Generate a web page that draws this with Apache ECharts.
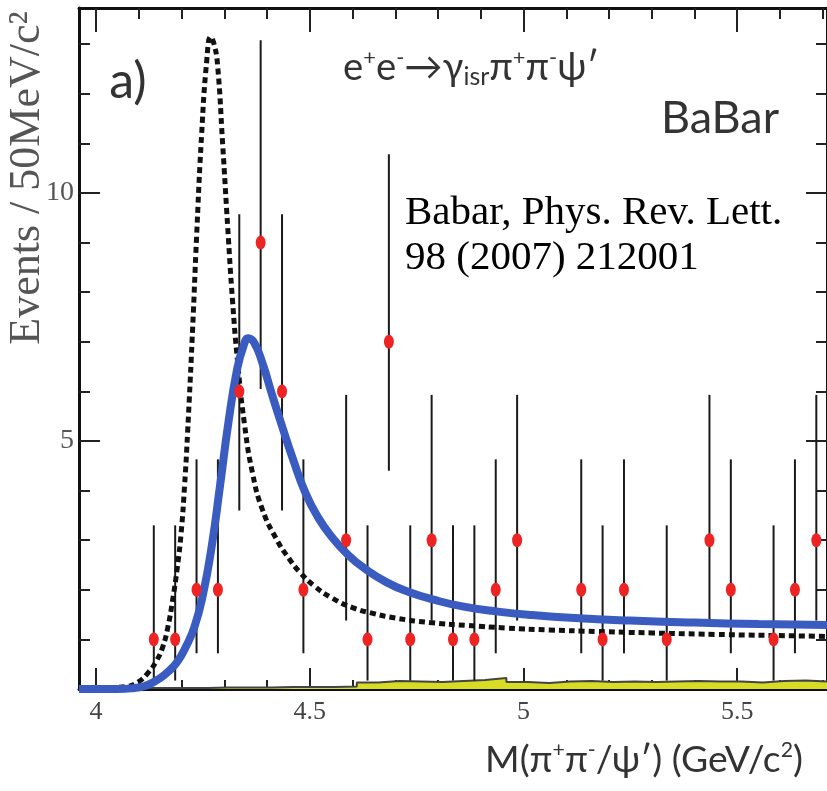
<!DOCTYPE html>
<html>
<head>
<meta charset="utf-8">
<script src="https://cdn.jsdelivr.net/npm/echarts@6/dist/echarts.min.js"></script>
<style>
  html, body { margin: 0; padding: 0; background: #fff; }
  #chart { width: 827px; height: 791px; }
</style>
</head>
<body>
<div id="chart"></div>
<script>
// axis ranges and ticks
const XMIN = 3.96, XMAX = 5.71, YMAX = 13.73;
const xMajor = [4, 4.5, 5, 5.5];
const xMinor = [4.0, 4.1, 4.2, 4.3, 4.4, 4.5, 4.6, 4.7, 4.8, 4.9, 5.0, 5.1, 5.2, 5.3, 5.4, 5.5, 5.6, 5.7];
const yMajor = [5, 10];
const yMinor = [1, 2, 3, 4, 5, 6, 7, 8, 9, 10, 11, 12, 13];

// data points (50 MeV bins)
const binCenters = [4.135, 4.185, 4.235, 4.285, 4.335, 4.385, 4.435, 4.485, 4.585, 4.635, 4.685, 4.735, 4.785,
  4.835, 4.885, 4.935, 4.985, 5.135, 5.185, 5.235, 5.335, 5.435, 5.485, 5.585, 5.635, 5.685];
const counts = [1, 1, 2, 2, 6, 9, 6, 2, 3, 1, 7, 1, 3, 1, 1, 2, 3, 2, 1, 2, 1, 3, 2, 1, 2, 3];
const errLow = [0.17, 0.17, 0.72, 0.72, 3.6, 6.05, 3.6, 0.72, 1.38, 0.17, 4.4, 0.17, 1.38, 0.17, 0.17, 0.72, 1.38,
  0.72, 0.17, 0.72, 0.17, 1.38, 0.72, 0.17, 0.72, 1.38];
const errHigh = [3.3, 3.3, 4.63, 4.63, 9.57, 13.08, 9.57, 4.63, 5.93, 3.3, 10.78, 3.3, 5.93, 3.3, 3.3, 4.63, 5.93,
  4.63, 3.3, 4.63, 3.3, 5.93, 4.63, 3.3, 4.63, 5.93];

// blue fit
const fitX = [3.96, 4.05, 4.09, 4.11, 4.13, 4.15, 4.17, 4.19, 4.21, 4.23, 4.25, 4.27, 4.29, 4.31, 4.33, 4.345,
  4.356, 4.37, 4.39, 4.41, 4.435, 4.46, 4.49, 4.52, 4.55, 4.59, 4.63, 4.68, 4.73, 4.79, 4.86, 4.94, 5.02, 5.12,
  5.25, 5.4, 5.55, 5.71];
const fitY = [0, 0, 0.02, 0.05, 0.12, 0.22, 0.36, 0.55, 0.85, 1.25, 1.9, 2.85, 4.1, 5.4, 6.45, 6.92,
  7.07, 6.98, 6.55, 5.98, 5.3, 4.65, 3.95, 3.45, 3.08, 2.7, 2.42, 2.15, 1.96, 1.8, 1.66, 1.56, 1.49, 1.43,
  1.38, 1.34, 1.31, 1.29];

// dotted curve
const dotX = [3.96, 4.04, 4.072, 4.098, 4.121, 4.142, 4.156, 4.168, 4.179, 4.19, 4.199, 4.207, 4.214, 4.226, 4.235,
  4.247, 4.259, 4.268, 4.276, 4.284, 4.296, 4.308, 4.319, 4.331, 4.347, 4.366, 4.389, 4.422, 4.452, 4.476, 4.51,
  4.551, 4.6, 4.65, 4.7, 4.78, 4.87, 4.96, 5.06, 5.17, 5.3, 5.45, 5.58, 5.71];
const dotY = [0.02, 0.03, 0.05, 0.14, 0.32, 0.58, 0.85, 1.25, 1.79, 2.45, 3.15, 4.1, 5.16, 7.3, 9.1,
  11.2, 12.68, 13.15, 13.0, 12.6, 11.0, 9.3, 7.85, 6.6, 5.35, 4.35, 3.62, 3.02, 2.62, 2.36, 2.08,
  1.84, 1.64, 1.52, 1.43, 1.34, 1.28, 1.23, 1.19, 1.16, 1.13, 1.1, 1.08, 1.06];

// background histogram (bin edges, values)
const bkgEdges = [3.96, 4.01, 4.06, 4.11, 4.16, 4.21, 4.26, 4.31, 4.36, 4.41, 4.46, 4.51, 4.56, 4.61, 4.66, 4.71,
  4.76, 4.81, 4.86, 4.91, 4.96, 5.01, 5.06, 5.11, 5.16, 5.21, 5.26, 5.31, 5.36, 5.41, 5.46, 5.51, 5.56, 5.61, 5.66, 5.71];
const bkgVals = [0.02, 0.02, 0.02, 0.02, 0.02, 0.02, 0.03, 0.03, 0.03, 0.04, 0.04, 0.04, 0.05, 0.13, 0.16, 0.15,
  0.14, 0.16, 0.18, 0.22, 0.14, 0.12, 0.15, 0.16, 0.14, 0.15, 0.14, 0.15, 0.16, 0.15, 0.15, 0.13, 0.16, 0.17, 0.15, 0.15];

const sans = 'Lato, "Open Sans", sans-serif';
const serif = '"Liberation Serif", "DejaVu Serif", serif';

// size a text so that it spans the wanted width
const measureCtx = document.createElement('canvas').getContext('2d');
function fitSize(frags, family, target) {
  let w = 0;
  frags.forEach(function (f) {
    measureCtx.font = (100 * f[1]) + 'px ' + family;
    w += measureCtx.measureText(f[0]).width;
  });
  return 100 * target / w;
}
const SUP = 0.57, SUB = 0.65;
const reactSize = fitSize([['e', 1], ['+', SUP], ['e', 1], ['-', SUP], ['→γ', 1], ['isr', SUB], ['π', 1],
  ['+', SUP], ['π', 1], ['-', SUP], ['ψ′', 1]], sans, 256);
const xTitleSize = fitSize([['M(π', 1], ['+', SUP], ['π', 1], ['-', SUP], ['/ψ′) (GeV/c', 1], ['2', SUP], [')', 1]],
  sans, 318);

const chart = echarts.init(document.getElementById('chart'));

function xAxisDef(pos, vals, len, showLine, showLabel) {
  return {
    type: 'value', min: XMIN, max: XMAX, position: pos,
    axisLine: {show: showLine, onZero: false, lineStyle: {color: '#111', width: 3}},
    axisTick: {show: true, inside: true, length: len, customValues: vals, lineStyle: {color: '#222', width: 2}},
    axisLabel: {
      show: showLabel, customValues: xMajor, margin: 10,
      fontFamily: serif, fontSize: 26, color: '#444'
    },
    splitLine: {show: false}
  };
}

function yAxisDef(pos, vals, len, showLine, showLabel) {
  return {
    type: 'value', min: 0, max: YMAX, position: pos,
    axisLine: {show: showLine, onZero: false, lineStyle: {color: '#111', width: 3}},
    axisTick: {show: true, inside: true, length: len, customValues: vals, lineStyle: {color: '#222', width: 2}},
    axisLabel: {
      show: showLabel, customValues: yMajor, margin: 5,
      fontFamily: serif, fontSize: 28, color: '#555'
    },
    splitLine: {show: false}
  };
}

const errData = binCenters.map((x, i) => [x, errLow[i], errHigh[i]]);

const option = {
  animation: false,
  backgroundColor: '#fff',
  grid: {left: 79, top: 8, width: 750, height: 681},
  xAxis: [
    xAxisDef('bottom', xMajor, 21, true, true),
    xAxisDef('bottom', xMinor, 9, false, false),
    xAxisDef('top', xMajor, 24, true, false),
    xAxisDef('top', xMinor, 11, false, false)
  ],
  yAxis: [
    yAxisDef('left', yMajor, 21, true, true),
    yAxisDef('left', yMinor, 11, false, false),
    yAxisDef('right', yMajor, 21, true, false),
    yAxisDef('right', yMinor, 11, false, false)
  ],
  series: [
    {
      type: 'line', step: 'end', symbol: 'none',
      data: bkgEdges.map((x, i) => [x, bkgVals[i]]),
      lineStyle: {color: '#444', width: 2},
      areaStyle: {color: '#d8dc24', opacity: 1},
      z: 1
    },
    {
      type: 'custom',
      data: errData,
      renderItem: function (params, api) {
        const p1 = api.coord([api.value(0), api.value(1)]);
        const p2 = api.coord([api.value(0), api.value(2)]);
        return {
          type: 'line',
          shape: {x1: p1[0], y1: p1[1], x2: p2[0], y2: p2[1]},
          style: {stroke: '#1a1a1a', lineWidth: 2}
        };
      },
      z: 2
    },
    {
      type: 'line', symbol: 'none', smooth: 0.5,
      data: dotX.map((x, i) => [x, dotY[i]]),
      lineStyle: {color: '#111', width: 5, type: [6, 4], cap: 'butt'},
      z: 3
    },
    {
      type: 'line', symbol: 'none', smooth: 0.5,
      data: fitX.map((x, i) => [x, fitY[i]]),
      lineStyle: {color: '#3a5cc0', width: 8},
      z: 4
    },
    {
      type: 'scatter', symbol: 'circle', symbolSize: [10, 14],
      data: binCenters.map((x, i) => [x, counts[i]]),
      itemStyle: {color: '#ee2424', opacity: 1},
      z: 5
    }
  ],
  graphic: [
    {
      type: 'text', x: 27, y: 178, rotation: Math.PI / 2,
      style: {
        text: 'Events / 50MeV/c²', fontFamily: serif, fontSize: 44, fill: '#555',
        align: 'center', verticalAlign: 'middle'
      }
    },
    {
      type: 'text', x: 128, y: 82,
      style: {text: 'a)', fontFamily: sans, fontSize: 50, fill: '#333', align: 'center', verticalAlign: 'middle'}
    },
    {
      type: 'text', x: 471, y: 68,
      style: {
        text: '{n|e}{sup|+}{n|e}{sup|-}{n|→γ}{sub|isr}{n|π}{sup|+}{n|π}{sup|-}{n|ψ′}',
        align: 'center', verticalAlign: 'middle',
        rich: {
          n: {fontFamily: sans, fontSize: reactSize, fill: '#333', lineHeight: reactSize * 1.1},
          sup: {fontFamily: sans, fontSize: reactSize * SUP, fill: '#333', verticalAlign: 'top', lineHeight: reactSize * SUP},
          sub: {fontFamily: sans, fontSize: reactSize * SUB, fill: '#333', verticalAlign: 'bottom', lineHeight: reactSize * SUB}
        }
      }
    },
    {
      type: 'text', x: 720, y: 118,
      style: {text: 'BaBar', fontFamily: sans, fontSize: 45, fill: '#333', align: 'center', verticalAlign: 'middle'}
    },
    {
      type: 'text', x: 405, y: 213,
      style: {text: 'Babar, Phys. Rev. Lett.', fontFamily: serif, fontSize: 41, fill: '#000', verticalAlign: 'middle'}
    },
    {
      type: 'text', x: 405, y: 258,
      style: {text: '98 (2007) 212001', fontFamily: serif, fontSize: 41, fill: '#000', verticalAlign: 'middle'}
    },
    {
      type: 'text', x: 644, y: 760,
      style: {
        text: '{n|M(π}{sup|+}{n|π}{sup|-}{n|/ψ′) (GeV/c}{sup|2}{n|)}',
        align: 'center', verticalAlign: 'middle',
        rich: {
          n: {fontFamily: sans, fontSize: xTitleSize, fill: '#333', lineHeight: xTitleSize * 1.1},
          sup: {fontFamily: sans, fontSize: xTitleSize * SUP, fill: '#333', verticalAlign: 'top', lineHeight: xTitleSize * SUP}
        }
      }
    }
  ]
};

chart.setOption(option);
</script>
</body>
</html>
